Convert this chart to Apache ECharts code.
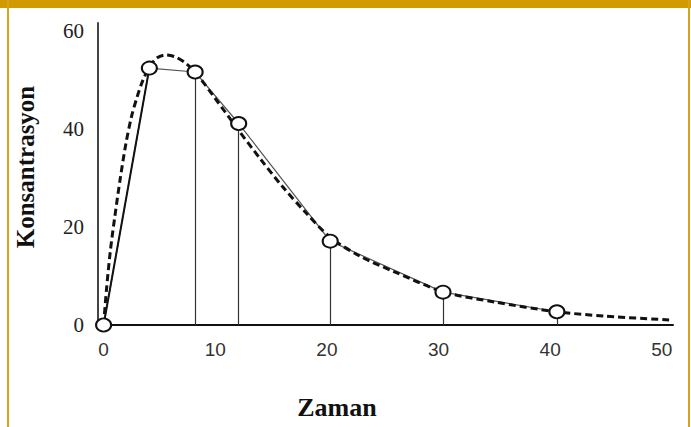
<!DOCTYPE html>
<html>
<head>
<meta charset="utf-8">
<script src="https://cdn.jsdelivr.net/npm/echarts@6/dist/echarts.min.js"></script>
<style>
html,body{margin:0;padding:0;background:#fff;}
#chart{width:691px;height:427px;}
</style>
</head>
<body>
<div id="chart"></div>
<script>
// Measured sample points (time, concentration)
var times = [0, 4.1, 8.2, 12.1, 20.3, 30.4, 40.6];
var conc  = [0, 52.4, 51.6, 41.1, 17.1, 6.7, 2.7];
// Dashed fitted curve
var curveX = [0, 0.25, 0.6, 1.0, 1.5, 2.0, 2.5, 3.0, 3.5, 4.1, 4.8, 5.6, 6.4, 7.3, 8.2, 10, 12, 14, 16, 18, 20.3, 23, 26, 30.4, 35, 40.6, 45, 51];
var curveY = [0, 7, 15, 22, 30, 37, 42.5, 46.5, 49.8, 52.6, 54.5, 55.1, 54.7, 53.5, 51.6, 46.2, 40.0, 34.0, 28.3, 23.2, 17.9, 14.0, 10.9, 6.8, 4.7, 2.7, 1.8, 1.0];
// Drop lines are drawn for these sample indexes
var dropIdx = [2, 3, 4, 5, 6];
var xTicks = [0, 10, 20, 30, 40, 50];
var yTicks = [0, 20, 40, 60];
var xTitle = 'Zaman';
var yTitle = 'Konsantrasyon';

var pts = times.map(function(t, i){ return [t, conc[i]]; });
var curve = curveX.map(function(t, i){ return [t, curveY[i]]; });
var drops = dropIdx.map(function(i){ return [{coord:[times[i], 0]}, {coord:[times[i], conc[i]]}]; });

var chart = echarts.init(document.getElementById('chart'), null, {renderer:'svg'});
chart.setOption({
  animation:false,
  backgroundColor:'#fff',
  grid:{left:98, right:18, top:23, bottom:102, containLabel:false},
  xAxis:{
    type:'value', min:-0.5, max:51,
    axisLine:{show:true, onZero:false, lineStyle:{color:'#111', width:2}},
    axisTick:{show:false},
    splitLine:{show:false},
    axisLabel:{customValues:xTicks, margin:15, fontFamily:'Liberation Sans', fontSize:19, color:'#333'}
  },
  yAxis:{
    type:'value', min:0, max:61.6,
    axisLine:{show:true, onZero:false, lineStyle:{color:'#444', width:2}},
    axisTick:{show:false},
    splitLine:{show:false},
    axisLabel:{customValues:yTicks, margin:14, fontFamily:'Liberation Serif', fontSize:21, color:'#222', padding:[0,0,5,0]}
  },
  graphic:[
    {type:'rect', shape:{x:0, y:0, width:691, height:8}, style:{fill:'#D09A00'}},
    {type:'rect', shape:{x:7, y:0, width:2, height:427}, style:{fill:'#D9A21B'}},
    {type:'rect', shape:{x:688, y:0, width:2, height:427}, style:{fill:'#D9A21B'}},
    {type:'text', x:337, y:407, style:{text:xTitle, font:'bold 26px "Liberation Serif"', textAlign:'center', textVerticalAlign:'middle', fill:'#111'}},
    {type:'text', x:25, y:167, rotation:Math.PI/2, style:{text:yTitle, font:'bold 25px "Liberation Serif"', textAlign:'center', textVerticalAlign:'middle', fill:'#111'}}
  ],
  series:[
    {
      type:'line', data:pts, symbol:'none', z:2,
      lineStyle:{color:'#555', width:1.2},
      markLine:{silent:true, symbol:'none', label:{show:false}, lineStyle:{color:'#333', width:1.2, type:'solid'}, data:drops}
    },
    {
      type:'line', data:pts.slice(0,2), symbol:'none', z:3,
      lineStyle:{color:'#111', width:2}
    },
    {
      type:'line', data:curve, symbol:'none', smooth:0.3, z:4,
      lineStyle:{color:'#111', width:3, type:[7,4]}
    },
    {
      type:'scatter', data:pts, symbol:'circle', symbolSize:[15,13], z:5,
      itemStyle:{color:'#fff', borderColor:'#111', borderWidth:2, opacity:1}
    }
  ]
});
</script>
</body>
</html>
